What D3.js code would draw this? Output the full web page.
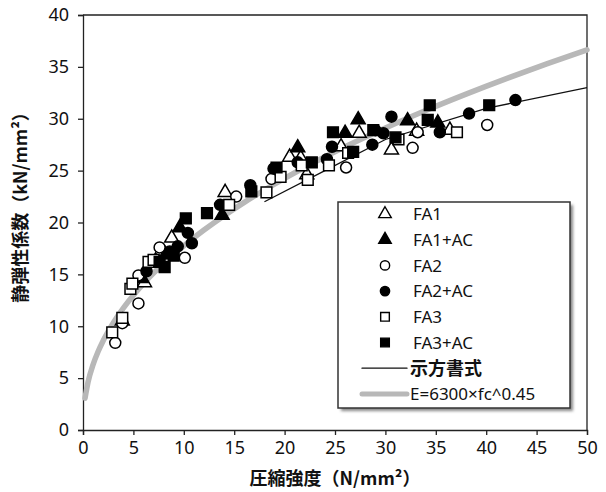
<!DOCTYPE html>
<html lang="ja">
<head>
<meta charset="UTF-8">
<title>静弾性係数と圧縮強度</title>
<script src="https://d3js.org/d3.v7.min.js"></script>
<style>
  body { margin: 0; background: #fff; }
  svg { display: block; }
  .tick text { font-family: "Noto Sans", "DejaVu Sans", sans-serif; font-size: 18px; fill: #111; }
  .axis-title { font-family: "Noto Sans CJK JP", sans-serif; font-size: 18px; font-weight: 700; fill: #111; }
  .legend_text { font-family: "Noto Sans", "Noto Sans CJK JP", sans-serif; font-size: 17px; fill: #111; }
</style>
</head>
<body>
<svg width="606" height="492"></svg>
<script>
  // measured points [fc (N/mm2), E (kN/mm2)]
  const fa1 = [[3.9,10.5],[6.1,14.2],[7.2,16.3],[8.8,18.5],[14.1,22.9],[20.5,26.3],[21.6,26.2],
               [22.2,24.6],[25.6,27.3],[27.4,28.6],[30.6,27.0],[33.1,28.8],[36.4,28.9]];
  const fa1ac = [[5.8,14.6],[8.2,16.9],[9.6,19.5],[13.8,20.7],[21.3,27.2],[26.0,28.6],
                 [27.3,29.9],[32.2,29.8],[35.2,29.6]];
  const fa2 = [[3.2,8.4],[3.9,10.3],[5.5,12.2],[5.5,14.9],[7.6,17.6],[10.1,16.6],[15.2,22.5],
               [18.7,24.2],[26.1,25.3],[32.7,27.2],[33.2,28.7],[40.1,29.4]];
  const fa2ac = [[6.3,15.3],[7.3,16.4],[8.6,17.2],[9.4,17.7],[10.4,19.0],[10.8,18.0],[13.6,21.7],
                 [16.6,23.6],[18.9,25.2],[21.3,25.8],[24.2,26.1],[24.7,27.3],[28.7,27.5],
                 [29.0,28.9],[29.8,28.6],[30.6,30.2],[35.4,28.7],[38.3,30.5],[42.9,31.8]];
  const fa3 = [[2.9,9.4],[3.9,10.8],[4.7,13.6],[4.9,14.1],[6.5,16.2],[7.0,16.4],[14.5,21.7],
               [18.2,22.9],[19.6,24.4],[21.7,25.5],[22.3,24.1],[24.4,25.5],[26.3,26.7],
               [31.3,28.0],[37.1,28.7]];
  const fa3ac = [[7.6,16.2],[8.1,15.7],[9.0,16.8],[10.2,20.4],[12.3,20.9],[16.7,23.0],[19.2,25.3],
                 [22.7,25.8],[24.8,28.7],[26.8,26.8],[28.8,28.9],[31.0,28.2],[34.2,29.9],
                 [34.4,31.3],[40.3,31.3]];

  // 示方書式 (JSCE table values)
  const codeFc = [18, 24, 30, 40, 50];
  const codeE  = [22, 25, 28, 31, 33];

  // fit curve E = 6300 x fc^0.45 (N/mm2), sampled at these fc
  const fitFc = [0.2,0.5,1,1.5,2,3,4,5,6,7,8,10,12,14,16,18,20,23,26,30,34,38,42,46,50];

  const xTicks = d3.range(0, 51, 5);
  const yTicks = d3.range(0, 41, 5);

  const legendItems = [
    {label: "FA1",    type: "sym", shape: d3.symbolTriangle, filled: false},
    {label: "FA1+AC", type: "sym", shape: d3.symbolTriangle, filled: true},
    {label: "FA2",    type: "sym", shape: d3.symbolCircle,   filled: false},
    {label: "FA2+AC", type: "sym", shape: d3.symbolCircle,   filled: true},
    {label: "FA3",    type: "sym", shape: d3.symbolSquare,   filled: false},
    {label: "FA3+AC", type: "sym", shape: d3.symbolSquare,   filled: true},
    {label: "示方書式", type: "line", color: "#111", width: 1.3},
    {label: "E=6300×fc^0.45", type: "line", color: "#b8b8b8", width: 5}
  ];

  const svg = d3.select("svg");
  const pLeft = 83, pRight = 587, pTop = 15, pBottom = 430;

  const x = d3.scaleLinear().domain([0, 50]).range([pLeft, pRight]);
  const y = d3.scaleLinear().domain([0, 40]).range([pBottom, pTop]);

  // axes
  const xAxis = svg.append("g").attr("transform", `translate(0,${pBottom})`)
    .call(d3.axisBottom(x).tickValues(xTicks).tickSize(5).tickPadding(6).tickFormat(d3.format("d")));
  const yAxis = svg.append("g").attr("transform", `translate(${pLeft},0)`)
    .call(d3.axisLeft(y).tickValues(yTicks).tickSize(5).tickPadding(9).tickFormat(d3.format("d")));
  [xAxis, yAxis].forEach(g => {
    g.select(".domain").attr("stroke", "#222").attr("stroke-width", 1.3);
    g.selectAll(".tick line").attr("stroke", "#222").attr("stroke-width", 1.3);
  });
  // frame top/right
  svg.append("path")
    .attr("d", `M${pLeft},${pTop}H${pRight}V${pBottom}`)
    .attr("fill", "none").attr("stroke", "#222").attr("stroke-width", 1.3);

  // titles
  svg.append("text").attr("class", "axis-title")
    .attr("x", (pLeft + pRight) / 2).attr("y", 485).attr("text-anchor", "middle")
    .text("圧縮強度（N/mm²）");
  svg.append("text").attr("class", "axis-title")
    .attr("transform", "translate(27,203) rotate(-90)").attr("text-anchor", "middle")
    .text("静弾性係数（kN/mm²）");

  // lines
  const line = d3.line().x(d => x(d[0])).y(d => y(d[1])).curve(d3.curveMonotoneX);
  const fitPts = fitFc.map(f => [f, 6300 * Math.pow(f, 0.45) / 1000]);
  svg.append("path").datum(fitPts).attr("d", line)
    .attr("fill", "none").attr("stroke", "#b8b8b8").attr("stroke-width", 5.5).attr("stroke-linecap", "round");
  svg.append("path").datum(codeFc.map((f, i) => [f, codeE[i]]))
    .attr("d", d3.line().x(d => x(d[0])).y(d => y(d[1])))
    .attr("fill", "none").attr("stroke", "#111").attr("stroke-width", 1.3);

  // points
  const series = [
    [fa1, d3.symbolTriangle, false, 85], [fa1ac, d3.symbolTriangle, true, 85],
    [fa2, d3.symbolCircle, false, 95],   [fa2ac, d3.symbolCircle, true, 95],
    [fa3, d3.symbolSquare, false, 115],  [fa3ac, d3.symbolSquare, true, 115]
  ];
  series.forEach(([data, shape, filled, size]) => {
    svg.append("g").selectAll("path").data(data).enter().append("path")
      .attr("transform", d => `translate(${x(d[0])},${y(d[1])})`)
      .attr("d", d3.symbol().type(shape).size(size))
      .attr("fill", filled ? "#000" : "#fff")
      .attr("stroke", "#000").attr("stroke-width", 1.5);
  });

  // legend
  const defs = svg.append("defs");
  defs.append("filter").attr("id", "shadow").append("feGaussianBlur").attr("stdDeviation", 1.5);
  const lg = svg.append("g");
  lg.append("rect").attr("x", 341).attr("y", 205).attr("width", 232).attr("height", 206)
    .attr("fill", "#888").attr("filter", "url(#shadow)");
  lg.append("rect").attr("x", 338).attr("y", 202).attr("width", 232).attr("height", 206)
    .attr("fill", "#fff").attr("stroke", "#333").attr("stroke-width", 1.5);
  legendItems.forEach((it, i) => {
    const yy = 214 + i * 25.7;
    if (it.type === "sym") {
      lg.append("path").attr("transform", `translate(385,${yy})`)
        .attr("d", d3.symbol().type(it.shape).size(it.shape === d3.symbolSquare ? 75 : 68))
        .attr("fill", it.filled ? "#000" : "#fff").attr("stroke", "#000").attr("stroke-width", 1.4);
    } else {
      lg.append("line").attr("x1", 362).attr("x2", 407).attr("y1", yy).attr("y2", yy)
        .attr("stroke", it.color).attr("stroke-width", it.width).attr("stroke-linecap", "round");
    }
    lg.append("text").attr("class", "legend_text")
      .attr("x", it.type === "sym" ? 413 : 410).attr("y", yy).attr("dy", "0.36em")
      .style("font-size", i === 6 ? "18px" : null)
      .style("font-weight", i === 6 ? 700 : null)
      .text(it.label);
  });
</script>
</body>
</html>
